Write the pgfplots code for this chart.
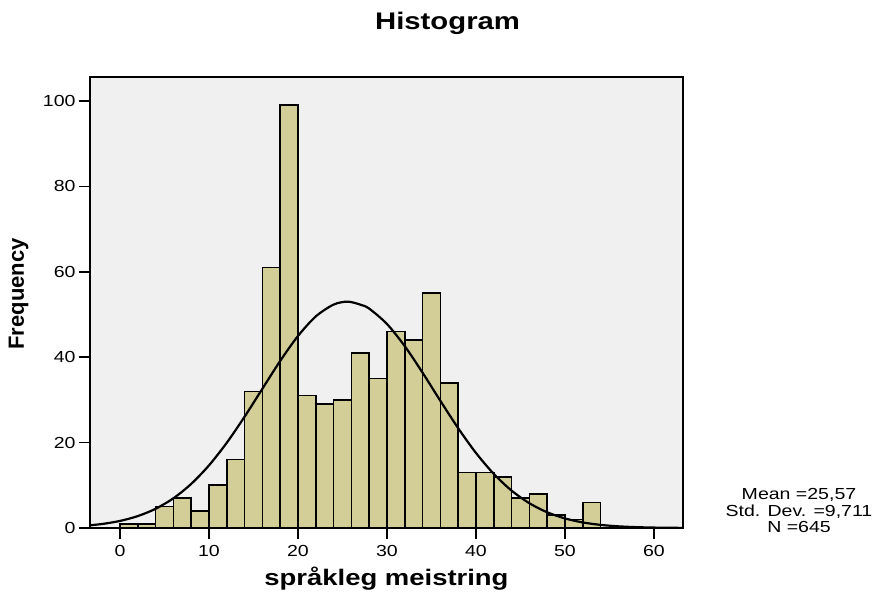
\documentclass[border=0pt]{standalone}
\usepackage{pgfplots}
\pgfplotsset{compat=1.18}
\usepackage{fontspec}
\setmainfont{Liberation Sans}[FakeStretch=1.22]
\newfontfamily\ylabfont{Liberation Sans}
\definecolor{bggray}{RGB}{240,240,240}
\definecolor{barfill}{RGB}{211,206,151}
\begin{document}
\begin{tikzpicture}
\begin{axis}[
    scale only axis,
    width=593pt, height=451pt,
    xmin=-3.37, xmax=63.26,
    ymin=0, ymax=105.6,
    xtick={0,10,...,60},
    ytick={0,20,...,100},
    xtick pos=left, ytick pos=left,
    tick align=outside,
    major tick length=11pt,
    every tick/.style={black, line width=1.6pt},
    axis line style={line width=1.6pt},
    axis background/.style={fill=bggray},
    /pgf/number format/assume math mode=true,
    tick label style={font=\fontsize{16}{19}\selectfont},
    xticklabel style={yshift=-3pt},
    title={\textbf{Histogram}},
    title style={at={(axis description cs:0.603,1.111)}, anchor=base, yshift=-9pt, font=\fontsize{24}{28}\selectfont},
    xlabel={\textbf{språkleg meistring}},
    xlabel style={at={(axis description cs:0.5,-0.1264)}, anchor=base, font=\fontsize{22.5}{26}\selectfont},
    ylabel={\ylabfont\bfseries Frequency},
    ylabel style={at={(axis description cs:-0.1206,0.519)}, anchor=center, font=\fontsize{22}{25}\selectfont},
    clip mode=individual,
]
\addplot[ybar interval, fill=barfill, draw=black, line width=1.6pt] coordinates {
(0,1)(2,1)(4,5)(6,7)(8,4)(10,10)(12,16)(14,32)(16,61)(18,99)
(20,31)(22,29)(24,30)(26,41)(28,35)(30,46)(32,44)(34,55)(36,34)
(38,13)(40,13)(42,12)(44,7)(46,8)(48,3)(50,2)(52,6)(54,6)
};
\addplot[smooth, black, line width=2.2pt] coordinates {
(-4,0.514)(-2,0.942)(0,1.654)(2,2.789)(4,4.497)(6,6.955)(8,10.32)
(10,14.66)(12,19.97)(14,26.06)(16,32.61)(18,39.12)(20,44.96)(22,49.54)
(24,52.31)(25.57,53.0)(27,52.30)(28,51.37)(30,47.76)(32,42.57)(34,36.36)
(36,29.77)(38,23.36)(40,17.57)(42,12.67)(44,8.754)(46,5.797)(48,3.681)
(50,2.239)(52,1.305)(54,0.730)(56,0.391)(58,0.201)(60,0.099)(62,0.047)(64,0.02)
};
\node[align=center, font=\fontsize{16}{16.5}\selectfont, anchor=center]
  at (rel axis cs:1.1956,0.038) {Mean =25,57\\Std. Dev. =9,711\\N =645};
\coordinate (bl) at (rel axis cs:0,0);
\coordinate (tr) at (rel axis cs:1,1);
\end{axis}
\pgfresetboundingbox
\path ([xshift=-90pt,yshift=-64pt]bl) rectangle ([xshift=192pt,yshift=77pt]tr);
\end{tikzpicture}
\end{document}
